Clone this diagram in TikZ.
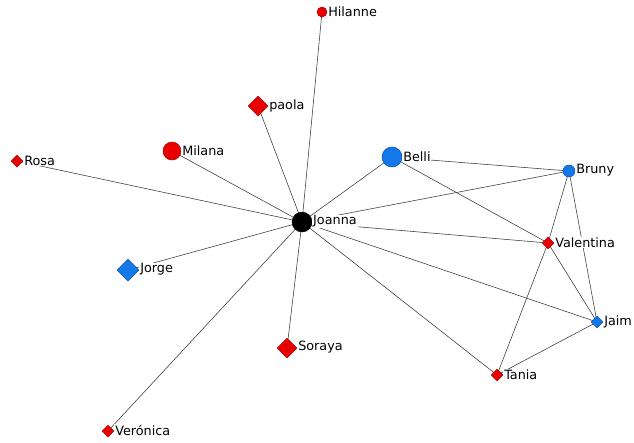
\documentclass[tikz,border=0pt]{standalone}
\usepackage{fontspec}
\setmainfont{DejaVu Sans}
\usetikzlibrary{shapes.geometric,backgrounds}
\pgfdeclarelayer{edges}
\pgfsetlayers{background,edges,main}
\definecolor{nred}{RGB}{232,0,0}
\definecolor{nredd}{RGB}{170,0,0}
\definecolor{nblue}{RGB}{20,120,235}
\definecolor{nblued}{RGB}{10,80,170}
\definecolor{edgec}{RGB}{55,55,55}
\tikzset{
  rc/.style={circle,fill=nred,draw=nredd,line width=0.5pt,inner sep=0pt,minimum size=#1},
  bc/.style={circle,fill=nblue,draw=nblued,line width=0.5pt,inner sep=0pt,minimum size=#1},
  kc/.style={circle,fill=black,draw=black,inner sep=0pt,minimum size=#1},
  rd/.style={diamond,aspect=1,fill=nred,draw=nredd,line width=0.5pt,inner sep=0pt,minimum size=#1},
  bd/.style={diamond,aspect=1,fill=nblue,draw=nblued,line width=0.5pt,inner sep=0pt,minimum size=#1},
  lbl/.style={anchor=west,fill=white,inner sep=0.8pt,font=\fontsize{12.8}{14}\selectfont,yshift=0.5pt},
  edge/.style={draw=edgec,line width=0.55pt}
}
\begin{document}
\begin{tikzpicture}[x=1pt,y=-1pt]
\begin{pgfonlayer}{background}
\fill[white] (0,0) rectangle (634,442);
\end{pgfonlayer}
\useasboundingbox (0,0) rectangle (634,442);
% nodes
\node[rc=10] (hil) at (322,12) {};
\node[rd=20] (pao) at (258,106) {};
\node[rc=18] (mil) at (172,151) {};
\node[rd=12] (ros) at (17,161) {};
\node[bc=20] (bel) at (392,157) {};
\node[bc=12] (bru) at (569,171) {};
\node[kc=20] (joa) at (302,222) {};
\node[rd=12] (val) at (548,243) {};
\node[bd=22] (jor) at (128,270) {};
\node[bd=12] (jai) at (597,322) {};
\node[rd=20] (sor) at (287,348) {};
\node[rd=12] (tan) at (497,375) {};
\node[rd=12] (ver) at (108,431) {};
% labels
\node[lbl] (lhil) at (hil.east) {Hilanne};
\node[lbl] (lpao) at (pao.east) {paola};
\node[lbl] (lmil) at (mil.east) {Milana};
\node[lbl] (lros) at (ros.east) {Rosa};
\node[lbl] (lbel) at (bel.east) {Belli};
\node[lbl] (lbru) at (bru.east) {Bruny};
\node[lbl] (ljoa) at (joa.east) {Joanna};
\node[lbl] (lval) at (val.east) {Valentina};
\node[lbl] (ljor) at (jor.east) {Jorge};
\node[lbl] (ljai) at (jai.east) {Jaim};
\node[lbl] (lsor) at (sor.east) {Soraya};
\node[lbl] (ltan) at (tan.east) {Tania};
\node[lbl] (lver) at (ver.east) {Verónica};
% edges
\begin{pgfonlayer}{edges}
\foreach \t in {hil,pao,mil,ros,bel,bru,val,jor,jai,sor,tan,ver}
  \draw[edge] (joa.center) -- (\t.center);
\draw[edge] (bel.center) -- (bru.center);
\draw[edge] (bel.center) -- (val.center);
\draw[edge] (bru.center) -- (val.center);
\draw[edge] (bru.center) -- (jai.center);
\draw[edge] (val.center) -- (jai.center);
\draw[edge] (val.center) -- (tan.center);
\draw[edge] (tan.center) -- (jai.center);
\end{pgfonlayer}
\end{tikzpicture}
\end{document}
